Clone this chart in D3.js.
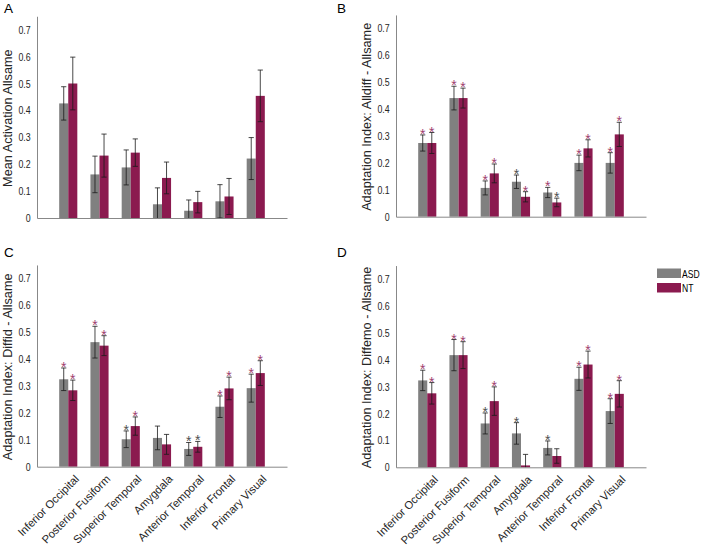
<!DOCTYPE html>
<html><head><meta charset="utf-8">
<script src="https://cdn.jsdelivr.net/npm/d3@7"></script>
<style>body{margin:0;background:#fff}svg{display:block}text{font-family:Arial,"Liberation Sans",sans-serif}</style>
</head><body><svg id="c" width="708" height="546"></svg>
<script>
const categories = ["Inferior Occipital","Posterior Fusiform","Superior Temporal","Amygdala","Anterior Temporal","Inferior Frontal","Primary Visual"];
const groups = ["ASD","NT"];
const yTicks = [0,0.1,0.2,0.3,0.4,0.5,0.6,0.7];
const panelLetters = ["A","B","C","D"];
const yTitles = ["Mean Activation Allsame","Adaptation Index: Alldiff - Allsame","Adaptation Index: Diffid - Allsame","Adaptation Index: Diffemo - Allsame"];

const asdA = [0.426,0.162,0.188,0.051,0.027,0.062,0.221];
const asdA_sem = [0.062,0.068,0.065,0.061,0.040,0.062,0.078];
const ntA = [0.500,0.232,0.243,0.149,0.059,0.080,0.454];
const ntA_sem = [0.098,0.080,0.051,0.059,0.040,0.067,0.096];

const asdB = [0.274,0.441,0.107,0.130,0.090,0.200,0.200];
const asdB_sem = [0.030,0.044,0.026,0.025,0.019,0.029,0.038];
const ntB = [0.274,0.441,0.161,0.074,0.053,0.254,0.306];
const ntB_sem = [0.039,0.037,0.035,0.019,0.016,0.032,0.045];

const asdC = [0.325,0.463,0.102,0.107,0.066,0.223,0.292];
const asdC_sem = [0.042,0.059,0.031,0.044,0.024,0.040,0.052];
const ntC = [0.284,0.450,0.151,0.083,0.074,0.291,0.348];
const ntC_sem = [0.038,0.037,0.034,0.037,0.020,0.042,0.046];

const asdD = [0.323,0.417,0.163,0.126,0.072,0.329,0.209];
const asdD_sem = [0.038,0.058,0.039,0.040,0.026,0.043,0.046];
const ntD = [0.275,0.417,0.246,0.007,0.042,0.382,0.273];
const ntD_sem = [0.040,0.050,0.053,0.041,0.027,0.050,0.049];

// significance markers: 0 none, 1 dark star, 2 magenta star
const asdA_sig = [0,0,0,0,0,0,0];
const ntA_sig = [0,0,0,0,0,0,0];
const asdB_sig = [2,2,2,1,2,2,2];
const ntB_sig = [2,2,2,2,1,2,2];
const asdC_sig = [2,2,1,0,1,2,2];
const ntC_sig = [2,2,2,0,1,2,2];
const asdD_sig = [2,2,1,1,1,2,2];
const ntD_sig = [2,2,2,0,0,2,2];

const panelsData = [
  {asd:asdA, asdSem:asdA_sem, nt:ntA, ntSem:ntA_sem, asdSig:asdA_sig, ntSig:ntA_sig},
  {asd:asdB, asdSem:asdB_sem, nt:ntB, ntSem:ntB_sem, asdSig:asdB_sig, ntSig:ntB_sig},
  {asd:asdC, asdSem:asdC_sem, nt:ntC, ntSem:ntC_sem, asdSig:asdC_sig, ntSig:ntC_sig},
  {asd:asdD, asdSem:asdD_sem, nt:ntD, ntSem:ntD_sem, asdSig:asdD_sig, ntSig:ntD_sig}
];

const layout = [
  {x0:37, y0:218, lx:4, ly:13, tx:11.5, showX:false},
  {x0:396, y0:216.7, lx:337, ly:13, tx:370.5, showX:false},
  {x0:37, y0:466.7, lx:4, ly:257, tx:11.5, showX:true},
  {x0:396, y0:467.3, lx:337, ly:257, tx:370.5, showX:true}
];
const colors = {ASD:"#808080", NT:"#8b1a4f"};
const starColors = {1:"#505050", 2:"#a0406e"};
const W = 250, perTenth = 26.9, barW = 0.29, sx = 0.8;

const svg = d3.select("#c");

panelsData.forEach((pd, pi) => {
  const L = layout[pi];
  const x = d3.scaleLinear().domain([0,8]).range([L.x0, L.x0+W]);
  const y = d3.scaleLinear().domain([0,0.75]).range([L.y0, L.y0 - 7.5*perTenth]);
  const g = svg.append("g");

  const series = [
    {name:"ASD", vals:pd.asd, sem:pd.asdSem, sig:pd.asdSig, off:-barW},
    {name:"NT", vals:pd.nt, sem:pd.ntSem, sig:pd.ntSig, off:0}
  ];
  series.forEach(s => {
    g.selectAll(null).data(s.vals).enter().append("rect")
      .attr("x", (d,i) => x(i+1+s.off))
      .attr("width", x(barW) - x(0))
      .attr("y", d => y(d))
      .attr("height", d => y(0) - y(d))
      .attr("fill", colors[s.name]);
  });
  series.forEach(s => {
    s.vals.forEach((v,i) => {
      const cx = x(i+1+s.off+barW/2);
      const top = y(v + s.sem[i]);
      const lowV = v - s.sem[i];
      const bot = y(Math.max(0, lowV));
      g.append("line").attr("x1",cx).attr("x2",cx).attr("y1",top).attr("y2",bot)
        .attr("stroke","#1a1a1a").attr("stroke-width",0.8);
      const caps = lowV >= 0 ? [top, bot] : [top];
      caps.forEach(yy => g.append("line").attr("x1",cx-2.6).attr("x2",cx+2.6)
        .attr("y1",yy).attr("y2",yy).attr("stroke","#1a1a1a").attr("stroke-width",0.8));
      if (s.sig[i]) {
        g.append("text").attr("x",cx).attr("y",top+4).attr("text-anchor","middle")
          .attr("font-size",14).attr("fill",starColors[s.sig[i]]).text("*");
      }
    });
  });

  const ya = d3.axisLeft(y).tickValues(yTicks).tickSize(0).tickPadding(8)
    .tickFormat(d => d===0 ? "0" : d3.format(".1f")(d));
  const yg = g.append("g").attr("transform",`translate(${L.x0},0)`).call(ya);
  yg.select(".domain").attr("stroke","#888").attr("stroke-width",1);
  yg.selectAll("text").attr("font-size",11).attr("fill","#262626")
    .attr("transform",`scale(${sx},1)`);

  const xa = d3.axisBottom(x).tickValues(L.showX ? d3.range(1,8) : []).tickSize(0).tickPadding(0)
    .tickFormat(d => categories[d-1]);
  const xg = g.append("g").attr("transform",`translate(0,${L.y0})`).call(xa);
  xg.select(".domain").attr("stroke","#888").attr("stroke-width",1);
  xg.selectAll("text").attr("font-size",11.2).attr("fill","#262626")
    .attr("text-anchor","end").attr("dy",null).attr("y",null)
    .attr("transform","translate(11,13) rotate(-45)");

  g.append("text").attr("transform",`translate(${L.tx},${(L.y0 + y(0.75))/2 + 1}) rotate(-90)`)
    .attr("text-anchor","middle").attr("font-size",12.7).attr("fill","#262626").text(yTitles[pi]);
  g.append("text").attr("x",L.lx).attr("y",L.ly).attr("font-size",13.5).attr("fill","#000").text(panelLetters[pi]);
});

const lg = svg.append("g");
groups.forEach((gname, i) => {
  lg.append("rect").attr("x",657).attr("y",268.5 + i*14.5).attr("width",24).attr("height",9.5).attr("fill",colors[gname]);
  lg.append("text").attr("transform",`translate(682,${277.5 + i*14.5}) scale(0.78,1)`)
    .attr("font-size",11).attr("fill","#000").text(gname);
});
</script></body></html>
